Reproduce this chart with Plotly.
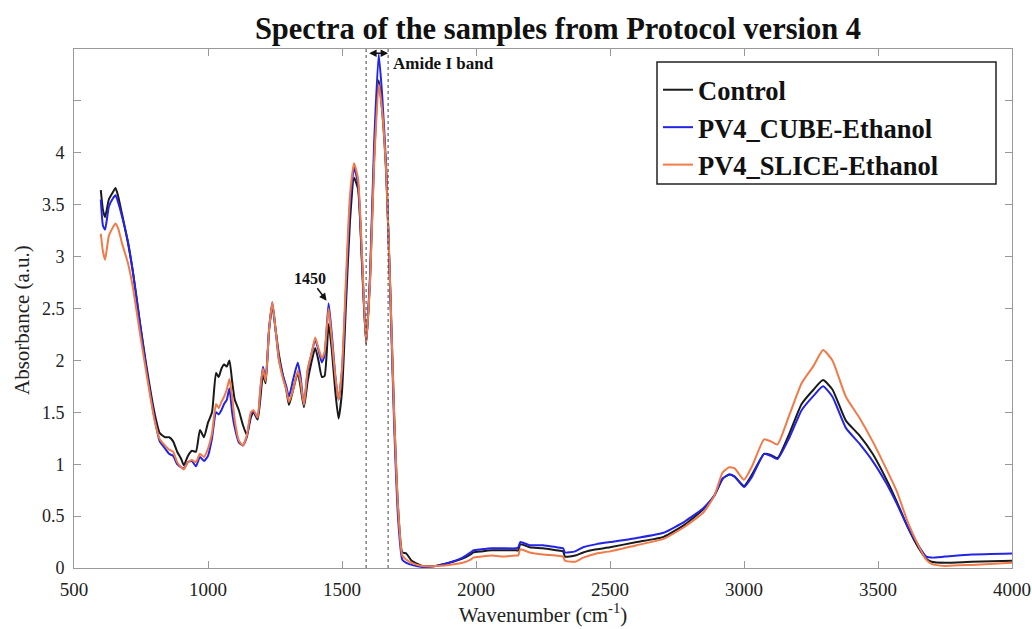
import plotly.graph_objects as go

wavenumber = [600, 608, 616, 630, 645, 655, 665, 680, 700, 720, 745, 770, 800, 820, 840, 855, 870, 885, 900, 910,
              925, 940, 955, 970, 985, 1000, 1015, 1030, 1040, 1050, 1060, 1070, 1080, 1090, 1100, 1115, 1130, 1145,
              1160, 1170, 1185, 1195, 1205, 1215, 1228, 1240, 1252, 1265, 1280, 1292, 1302, 1318, 1335, 1345, 1358,
              1372, 1385, 1400, 1412, 1425, 1435, 1450, 1462, 1475, 1487, 1500, 1515, 1530, 1545, 1560, 1575, 1590,
              1605, 1620, 1637, 1650, 1665, 1680, 1695, 1710, 1725, 1740, 1760, 1800, 1850, 1900, 1950, 1980, 1990,
              2020, 2060, 2100, 2150, 2158, 2165, 2200, 2250, 2300, 2325, 2332, 2370, 2400, 2450, 2500, 2600, 2700,
              2780, 2850, 2890, 2920, 2945, 2965, 3000, 3030, 3075, 3100, 3125, 3170, 3215, 3260, 3295, 3330, 3380,
              3430, 3480, 3530, 3570, 3610, 3650, 3680, 3700, 3750, 3850, 4000]

control = [3.64, 3.45, 3.38, 3.55, 3.62, 3.66, 3.58, 3.40, 3.15, 2.85, 2.38, 1.95, 1.50, 1.30, 1.26, 1.26, 1.22, 1.12,
           1.05, 0.99, 1.08, 1.13, 1.12, 1.33, 1.26, 1.40, 1.50, 1.88, 1.84, 1.92, 1.96, 1.94, 2.00, 1.80, 1.62, 1.52,
           1.38, 1.28, 1.45, 1.50, 1.43, 1.62, 1.86, 1.78, 2.30, 2.53, 2.30, 2.05, 1.85, 1.72, 1.57, 1.72, 1.88, 1.75,
           1.55, 1.80, 1.97, 2.12, 2.00, 1.84, 1.85, 2.35, 2.10, 1.70, 1.44, 1.70, 2.55, 3.35, 3.76, 3.65, 2.90, 2.16,
           2.80, 3.95, 4.70, 4.40, 3.80, 2.70, 1.45, 0.55, 0.15, 0.14, 0.07, 0.02, 0.02, 0.05, 0.09, 0.13, 0.15,
           0.16, 0.17, 0.17, 0.17, 0.17, 0.23, 0.20, 0.19, 0.17, 0.16, 0.11, 0.12, 0.15, 0.18, 0.20, 0.25, 0.30,
           0.42, 0.57, 0.70, 0.86, 0.90, 0.88, 0.79, 0.90, 1.10, 1.09, 1.06, 1.30, 1.58, 1.72, 1.81, 1.72, 1.42,
           1.28, 1.10, 0.86, 0.64, 0.40, 0.20, 0.09, 0.06, 0.05, 0.06, 0.07]

cube_ethanol = [3.55, 3.30, 3.26, 3.48, 3.56, 3.59, 3.52, 3.38, 3.16, 2.85, 2.38, 1.92, 1.45, 1.22, 1.15, 1.10, 1.08,
                1.00, 0.97, 0.96, 1.02, 1.03, 0.98, 1.07, 1.03, 1.08, 1.25, 1.50, 1.48, 1.52, 1.58, 1.62, 1.73, 1.50,
                1.35, 1.21, 1.18, 1.26, 1.48, 1.51, 1.45, 1.70, 1.94, 1.82, 2.30, 2.56, 2.30, 2.00, 1.85, 1.75, 1.65,
                1.82, 1.98, 1.85, 1.57, 1.90, 2.05, 2.20, 2.10, 1.98, 2.05, 2.55, 2.25, 1.85, 1.62, 1.90, 2.70, 3.50,
                3.86, 3.70, 2.95, 2.16, 2.85, 4.10, 4.95, 4.55, 3.85, 2.65, 1.35, 0.45, 0.08, 0.05, 0.03, 0.01, 0.02,
                0.05, 0.10, 0.15, 0.17, 0.18, 0.19, 0.19, 0.19, 0.20, 0.25, 0.22, 0.22, 0.20, 0.19, 0.15, 0.16, 0.20,
                0.23, 0.25, 0.29, 0.34, 0.45, 0.58, 0.70, 0.86, 0.90, 0.88, 0.78, 0.88, 1.10, 1.08, 1.05, 1.26, 1.52,
                1.66, 1.75, 1.65, 1.35, 1.20, 1.03, 0.82, 0.62, 0.40, 0.22, 0.11, 0.10, 0.11, 0.13, 0.14]

slice_ethanol = [3.22, 3.05, 2.97, 3.20, 3.28, 3.32, 3.27, 3.12, 2.95, 2.70, 2.28, 1.88, 1.43, 1.24, 1.18, 1.14, 1.12,
                 1.02, 0.97, 0.95, 1.02, 1.04, 1.02, 1.10, 1.07, 1.15, 1.30, 1.58, 1.54, 1.60, 1.65, 1.72, 1.82, 1.65,
                 1.42, 1.23, 1.18, 1.28, 1.50, 1.52, 1.45, 1.72, 1.92, 1.80, 2.30, 2.56, 2.30, 2.00, 1.82, 1.72, 1.60,
                 1.72, 1.90, 1.80, 1.57, 1.92, 2.05, 2.22, 2.12, 2.02, 2.08, 2.50, 2.20, 1.85, 1.62, 1.92, 2.80, 3.60,
                 3.90, 3.75, 3.00, 2.16, 2.78, 3.90, 4.66, 4.40, 3.80, 2.70, 1.45, 0.55, 0.12, 0.08, 0.05, 0.02, 0.02,
                 0.03, 0.05, 0.08, 0.10, 0.11, 0.12, 0.11, 0.12, 0.12, 0.18, 0.15, 0.13, 0.12, 0.11, 0.07, 0.06, 0.10,
                 0.14, 0.16, 0.22, 0.28, 0.40, 0.54, 0.70, 0.92, 0.97, 0.96, 0.85, 0.98, 1.24, 1.22, 1.19, 1.48, 1.78,
                 1.95, 2.10, 2.00, 1.65, 1.45, 1.22, 0.96, 0.74, 0.45, 0.22, 0.08, 0.04, 0.02, 0.03, 0.05]

series_names = ["Control", "PV4_CUBE-Ethanol", "PV4_SLICE-Ethanol"]
series_colors = ["#1a1a1a", "#2323e6", "#f07a48"]

y_tickvals = [0, 0.5, 1, 1.5, 2, 2.5, 3, 3.5, 4, 4.5]
y_ticktext = ["0", "0.5", "1", "1.5", "2", "2.5", "3", "3.5", "4", " "]
x_tickvals = [500, 1000, 1500, 2000, 2500, 3000, 3500, 4000]

amide_band = [1590, 1672]
peak_1450 = (1447, 2.56)

FONT = "Liberation Serif"
W, H = 1032, 629
ML, MR, MT, MB = 74, 20, 49, 61
PW, PH = W - ML - MR, H - MT - MB

fig = go.Figure()
for name, color, vals in zip(series_names, series_colors, [control, cube_ethanol, slice_ethanol]):
    fig.add_trace(go.Scatter(x=wavenumber, y=vals, mode="lines", name=name,
                             line=dict(color=color, width=2, shape="spline", smoothing=0.5)))

for xv in amide_band:
    fig.add_shape(type="line", x0=xv, x1=xv, y0=0, y1=5, xref="x", yref="y",
                  line=dict(color="#444444", width=1, dash="dot"))

# legend frame (legend itself is drawn on top of it)
fig.add_shape(type="rect", xref="paper", yref="paper", layer="above",
              x0=(657 - ML) / PW, x1=(996 - ML) / PW, y0=(568 - 184) / PH, y1=(568 - 62) / PH,
              fillcolor="white", line=dict(color="#222222", width=1.5))

fig.add_annotation(x=amide_band[1], y=4.96, ax=amide_band[0], ay=4.96, axref="x", ayref="y",
                   xref="x", yref="y", text=" ", showarrow=True, arrowside="end+start",
                   arrowhead=2, arrowsize=1, arrowwidth=1.5, arrowcolor="#111111")
fig.add_annotation(x=1683, y=4.86, xref="x", yref="y", text="<b>Amide I band</b>", showarrow=False,
                   xanchor="left", yanchor="middle", font=dict(family=FONT, size=17, color="#111111"))
fig.add_annotation(x=peak_1450[0], y=peak_1450[1], xref="x", yref="y", text="<b>1450</b>",
                   showarrow=True, ax=-18, ay=-24, arrowhead=2, arrowsize=1, arrowwidth=1.5,
                   arrowcolor="#111111", standoff=2, font=dict(family=FONT, size=16, color="#111111"))

fig.add_annotation(x=(22 - ML) / PW, y=(568 - 320) / PH, xref="paper", yref="paper",
                   xanchor="center", yanchor="middle", text="Absorbance (a.u.)", showarrow=False,
                   textangle=-90, font=dict(family=FONT, size=21, color="#222222"))

fig.update_layout(
    width=W, height=H,
    margin=dict(l=ML, r=MR, t=MT, b=MB),
    paper_bgcolor="white", plot_bgcolor="white",
    title=dict(text="<b>Spectra of the samples from Protocol version 4</b>", x=558 / W, xanchor="center",
               y=1 - 28 / H, yanchor="middle", font=dict(family=FONT, size=30.5, color="#111111")),
    showlegend=True,
    legend=dict(x=(658 - ML) / PW, y=(568 - 66) / PH, xanchor="left", yanchor="top",
                bgcolor="rgba(0,0,0,0)", borderwidth=0, itemwidth=30, tracegroupgap=0,
                font=dict(family=FONT, size=26.5, color="#111111", weight="bold")),
    xaxis=dict(range=[500, 4000], tickvals=x_tickvals, ticks="inside", ticklen=7, tickcolor="#999999",
               showline=True, linecolor="#999999", linewidth=1, mirror="ticks", showgrid=False, zeroline=False,
               automargin=False,
               tickfont=dict(family=FONT, size=19, color="#222222"), ticklabelstandoff=4,
               title=dict(text="Wavenumber (cm<sup>-1</sup>)", font=dict(family=FONT, size=21, color="#222222"),
                          standoff=6)),
    yaxis=dict(range=[0, 5], tickvals=y_tickvals, ticktext=y_ticktext, ticks="inside", ticklen=7,
               tickcolor="#999999", showline=True, linecolor="#999999", linewidth=1, mirror="ticks",
               automargin=False,
               showgrid=False, zeroline=False, tickfont=dict(family=FONT, size=18, color="#222222"),
               ticklabelstandoff=5),
)

fig.write_html("out.html")
